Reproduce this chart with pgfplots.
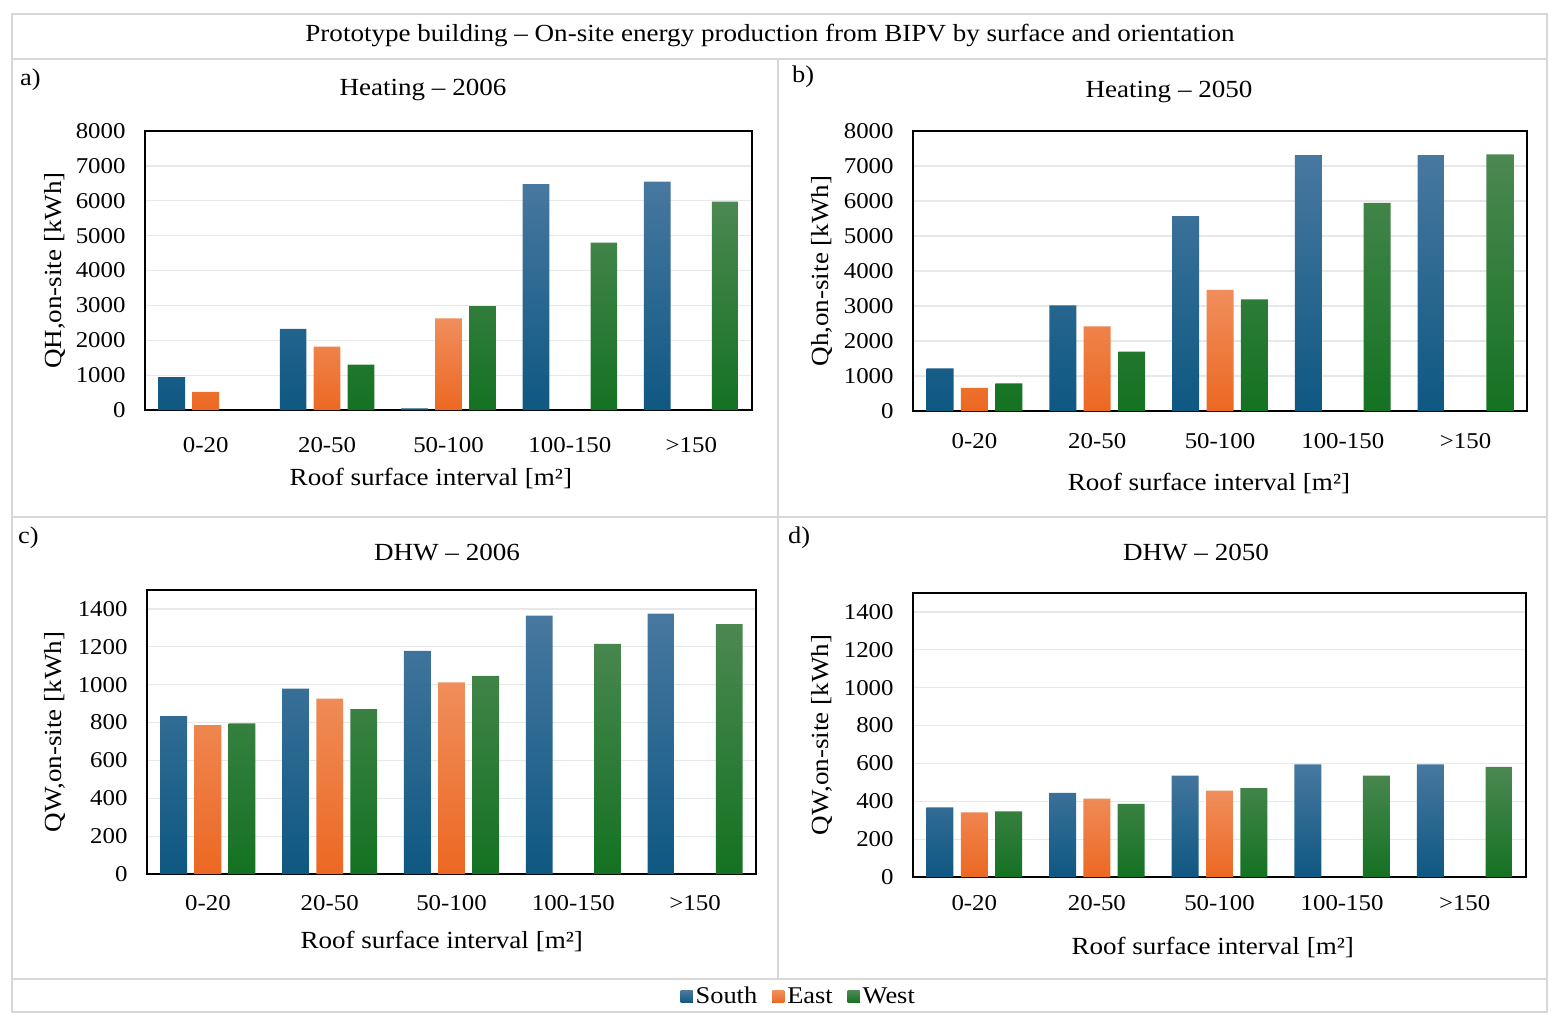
\documentclass[border=0pt]{standalone}
\usepackage{fontspec}
\setmainfont{Liberation Serif}[FakeStretch=1.1]
\usepackage{pgfplots}
\pgfplotsset{compat=1.18}
\definecolor{frame}{RGB}{215,215,215}
\definecolor{gridc}{RGB}{232,232,232}
\definecolor{southT}{RGB}{72,120,160}
\definecolor{southB}{RGB}{14,88,130}
\definecolor{eastT}{RGB}{240,142,92}
\definecolor{eastB}{RGB}{236,104,34}
\definecolor{westT}{RGB}{76,136,82}
\definecolor{westB}{RGB}{20,114,34}
\pgfplotsset{
  panel/.style={
    scale only axis, ybar,
    xmin=-0.5, xmax=4.5, xtick={0,1,2,3,4},
    xticklabels={0-20,20-50,50-100,100-150,>150},
    ymin=0,
    major tick length=0pt,
    ymajorgrids, grid style={draw=gridc, line width=0.6pt},
    axis line style={line width=0.8pt},
    tick label style={font=\fontsize{11.3}{12}\selectfont},
    /pgf/number format/assume math mode=true,
    /pgf/number format/set thousands separator={},
    label style={font=\fontsize{12.3}{14}\selectfont},
    yticklabel style={xshift=-6.2pt},
    bar width=0.22,
    legend image code/.code={\fill[##1] (0pt,-3pt) rectangle (6pt,3pt);},
  },
  S/.style={draw=none, top color=southT, bottom color=southB, bar shift=-0.28},
  E/.style={draw=none, top color=eastT, bottom color=eastB, bar shift=0},
  W/.style={draw=none, top color=westT, bottom color=westB, bar shift=0.28},
}
\begin{document}
\begin{tikzpicture}
\path[use as bounding box, fill=white] (0pt,0pt) rectangle (779.5pt,-512pt);
% frames
\draw[frame, line width=0.8pt] (6pt,-7pt) rectangle (773.5pt,-506pt);
\draw[frame, line width=0.8pt] (6pt,-29.5pt) -- (773.5pt,-29.5pt);
\draw[frame, line width=0.8pt] (6pt,-258.5pt) -- (773.5pt,-258.5pt);
\draw[frame, line width=0.8pt] (6pt,-489.5pt) -- (773.5pt,-489.5pt);
\draw[frame, line width=0.8pt] (389pt,-29.5pt) -- (389pt,-489.5pt);
% titles
\node[font=\fontsize{12.3}{14}\selectfont] at (385pt,-17.8pt) {Prototype building – On-site energy production from BIPV by surface and orientation};
\node[font=\fontsize{12}{14}\selectfont, anchor=west] at (6.5pt,-40pt) {a)};
\node[font=\fontsize{12}{14}\selectfont, anchor=west] at (392.5pt,-38.5pt) {b)};
\node[font=\fontsize{12}{14}\selectfont, anchor=west] at (5.5pt,-269pt) {c)};
\node[font=\fontsize{12}{14}\selectfont, anchor=west] at (390.5pt,-269pt) {d)};
\node[font=\fontsize{12.3}{14}\selectfont] at (211.5pt,-45pt) {Heating – 2006};
\node[font=\fontsize{12.3}{14}\selectfont] at (584.5pt,-46pt) {Heating – 2050};
\node[font=\fontsize{12.3}{14}\selectfont] at (223.5pt,-276pt) {DHW – 2006};
\node[font=\fontsize{12.3}{14}\selectfont] at (598pt,-276pt) {DHW – 2050};

% a) Heating 2006
\begin{axis}[panel, at={(72.5pt,-205pt)}, anchor=south west,
  width=303.5pt, height=139.5pt, ymax=8000, ytick={0,1000,...,8000},
  xticklabel style={yshift=-10.3pt},
  xlabel={Roof surface interval [m²]}, ylabel={QH,on-site [kWh]},
  xlabel style={at={(axis description cs:0.471,0)}, anchor=center, yshift=-34pt},
  ylabel style={at={(axis description cs:-0.148,0.5)}, anchor=center}]
\addplot[S] coordinates {(0,940) (1,2330) (2,50) (3,6480) (4,6550)};
\addplot[E] coordinates {(0,520) (1,1820) (2,2630)};
\addplot[W] coordinates {(1,1300) (2,2980) (3,4800) (4,5975)};
\end{axis}

% b) Heating 2050
\begin{axis}[panel, at={(456.5pt,-205.5pt)}, anchor=south west,
  width=307pt, height=140pt, ymax=8000, ytick={0,1000,...,8000},
  xticklabel style={yshift=-7.8pt},
  xlabel={Roof surface interval [m²]}, ylabel={Qh,on-site [kWh]},
  xlabel style={at={(axis description cs:0.482,0)}, anchor=center, yshift=-36pt},
  ylabel style={at={(axis description cs:-0.148,0.5)}, anchor=center}]
\addplot[S] coordinates {(0,1220) (1,3020) (2,5570) (3,7310) (4,7310)};
\addplot[E] coordinates {(0,660) (1,2420) (2,3460)};
\addplot[W] coordinates {(0,790) (1,1700) (2,3190) (3,5950) (4,7330)};
\end{axis}

% c) DHW 2006
\begin{axis}[panel, at={(73.5pt,-437pt)}, anchor=south west,
  width=304.5pt, height=142pt, ymax=1500, ytick={0,200,...,1400},
  xticklabel style={yshift=-7.3pt},
  xlabel={Roof surface interval [m²]}, ylabel={QW,on-site [kWh]},
  xlabel style={at={(axis description cs:0.484,0)}, anchor=center, yshift=-33.5pt},
  ylabel style={at={(axis description cs:-0.151,0.5)}, anchor=center},
  legend style={at={(axis description cs:1.071,-0.433)}, anchor=center,
    legend columns=3, draw=none, fill=none, font=\fontsize{12}{14}\selectfont,
    nodes={inner sep=1.5pt},
    /tikz/every even column/.append style={column sep=6pt}}]
\addplot[S] coordinates {(0,834) (1,979) (2,1179) (3,1365) (4,1375)};
\addplot[E] coordinates {(0,786) (1,926) (2,1012)};
\addplot[W] coordinates {(0,796) (1,871) (2,1046) (3,1216) (4,1320)};
\legend{South,East,West}
\end{axis}

% d) DHW 2050
\begin{axis}[panel, at={(456.5pt,-438.5pt)}, anchor=south west,
  width=306.5pt, height=142pt, ymax=1500, ytick={0,200,...,1400},
  xticklabel style={yshift=-5.8pt},
  xlabel={Roof surface interval [m²]}, ylabel={QW,on-site [kWh]},
  xlabel style={at={(axis description cs:0.489,0)}, anchor=center, yshift=-35pt},
  ylabel style={at={(axis description cs:-0.148,0.5)}, anchor=center}]
\addplot[S] coordinates {(0,368) (1,444) (2,535) (3,595) (4,595)};
\addplot[E] coordinates {(0,342) (1,414) (2,456)};
\addplot[W] coordinates {(0,347) (1,386) (2,470) (3,535) (4,582)};
\end{axis}
\end{tikzpicture}
\end{document}
